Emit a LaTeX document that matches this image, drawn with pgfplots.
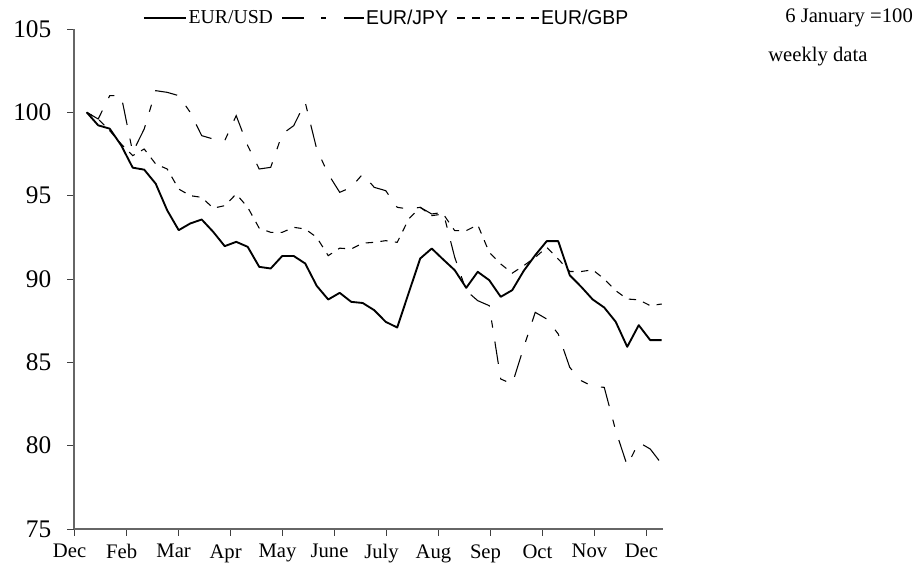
\documentclass[border=0pt]{standalone}
\usepackage{pgfplots}
\pgfplotsset{compat=1.18}
\usepackage{pgfplotstable}
\usepackage{fontspec}
\setmainfont{Liberation Serif}
\newfontfamily\legsans[FakeStretch=0.97]{Liberation Sans}
\newfontfamily\legserif{Liberation Serif}

\pgfplotstableread{
w usd jpy gbp
0 100.00 100.0 100.0
1 99.22 99.6 99.6
2 99.02 101.0 98.9
3 98.02 101.0 98.1
4 96.68 97.6 97.4
5 96.56 99.0 97.8
6 95.72 101.3 96.9
7 94.12 101.2 96.6
8 92.93 101.0 95.4
9 93.33 100.0 95.0
10 93.57 98.6 94.9
11 92.83 98.4 94.25
12 91.97 98.3 94.4
13 92.23 99.8 95.1
14 91.93 98.0 94.3
15 90.73 96.6 93.05
16 90.63 96.7 92.8
17 91.38 98.7 92.8
18 91.38 99.2 93.1
19 90.93 100.6 93.0
20 89.59 97.8 92.5
21 88.77 96.3 91.4
22 89.17 95.2 91.85
23 88.63 95.5 91.8
24 88.56 96.3 92.15
25 88.13 95.5 92.2
26 87.43 95.3 92.3
27 87.09 94.3 92.2
28 89.17 94.2 93.6
29 91.23 94.3 94.3
30 91.83 93.9 93.8
31 91.17 94.0 93.9
32 90.53 91.3 92.9
33 89.47 89.3 92.9
34 90.43 88.7 93.25
35 89.93 88.4 91.6
36 88.93 84.0 90.9
37 89.33 83.7 90.35
38 90.49 85.9 90.8
39 91.43 88.0 91.3
40 92.27 87.6 91.9
41 92.27 86.7 91.2
42 90.23 84.7 90.45
43 89.53 83.9 90.45
44 88.77 83.55 90.55
45 88.29 83.5 90.0
46 87.43 80.9 89.3
47 85.93 78.8 88.8
48 87.23 80.2 88.75
49 86.33 79.8 88.4
50 86.33 78.9 88.5
}\fxdata

\begin{document}
\begin{tikzpicture}[x=1pt,y=1pt]
\useasboundingbox (0,0) rectangle (692.25,431.25);
\begin{axis}[
  at={(55.5pt,34.5pt)}, anchor=south west,
  scale only axis, width=441.75pt, height=375pt,
  xmin=-1.104, xmax=50.11, ymin=75, ymax=105,
  axis x line*=bottom, axis y line*=left,
  ytick={75,80,...,105},
  xtick={-1.02,3.50,8.02,12.54,17.06,21.58,26.10,30.62,35.14,39.66,44.18,48.70},
  xticklabels={Dec,Feb,Mar,Apr,May,June,July,Aug,Sep,Oct,Nov,Dec},
  tick align=outside, major tick length=5pt,
  tick style={black!75, line width=0.7pt},
  axis line style={black!60, line width=1pt},
  /pgf/number format/assume math mode=true,
  yticklabel style={font=\fontsize{19}{19}\selectfont, xshift=-8.5pt},
  xticklabel style={font=\fontsize{15.5}{16}\selectfont, yshift=-3pt, xshift=-4pt},
  clip=false,
  legend columns=3,
  legend style={at={(0.1171,1.022)}, anchor=west, draw=none, fill=none,
    inner sep=0pt, outer sep=0pt,
    /tikz/every even column/.append style={column sep=5.5pt},
    nodes={inner sep=1pt}},
]
\addplot[black, line width=1.4pt, line join=round,
  legend image code/.code={\draw[black, line width=1.2pt] (0pt,0pt) -- (32pt,0pt);}]
  table[x=w, y=usd] {\fxdata};
\addlegendentry{\legserif\fontsize{14.8}{15}\selectfont EUR/USD}
\addplot[black, line width=0.8pt, dash pattern=on 17pt off 10.5pt on 5.5pt off 10.5pt,
  legend image code/.code={\draw[black, line width=0.8pt, dash pattern=on 16.5pt off 12.75pt on 3.75pt off 13.5pt on 15pt off 100pt] (0pt,0pt) -- (61.5pt,0pt);}]
  table[x=w, y=jpy] {\fxdata};
\addlegendentry{\legsans\fontsize{15}{15}\selectfont EUR/JPY}
\addplot[black, line width=0.8pt, dash pattern=on 5.5pt off 5.5pt,
  legend image code/.code={\draw[black, line width=0.8pt, dash pattern=on 6pt off 5.1pt] (0pt,0pt) -- (61.5pt,0pt);}]
  table[x=w, y=gbp] {\fxdata};
\addlegendentry{\legsans\fontsize{15}{15}\selectfont EUR/GBP}
\end{axis}
\node[anchor=west, inner sep=0pt, font=\fontsize{15.5}{16}\selectfont] at (588.75,417.75) {6 January =100};
\node[anchor=west, inner sep=0pt, font=\fontsize{15.5}{16}\selectfont] at (576,388.5) {weekly data};
\end{tikzpicture}
\end{document}
